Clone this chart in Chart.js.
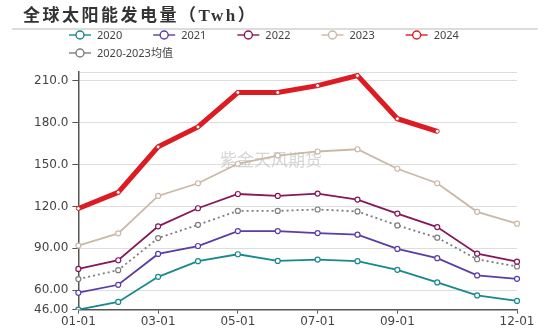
<!DOCTYPE html>
<html>
<head>
<meta charset="utf-8">
<title>全球太阳能发电量</title>
<script src="https://cdn.jsdelivr.net/npm/chart.js@4.4.1/dist/chart.umd.min.js"></script>
<style>
html,body{margin:0;padding:0;background:#fff;}
#box{position:relative;width:550px;height:330px;}
</style>
</head>
<body>
<div id="box"><canvas id="solarChart"></canvas></div>
<script>

const chartTitle =
"全球太阳能发电量（Twh）";

const watermark =
"紫金天风期货";

const months = [
    "01-01","02-01","03-01","04-01","05-01","06-01",
    "07-01","08-01","09-01","10-01","11-01","12-01"
];

// month labels that get a tick on the x axis
const shownMonths = [
    "01-01","03-01","05-01","07-01","09-01","12-01"
];

const yTicks = [46, 60, 90, 120, 150, 180, 210];
const yMin = 46;
const yMax = 216.4;

const seriesNames = [
    "2020","2021","2022","2023","2024","2020-2023均值"
];

const gen2020 = [46.0, 51.5, 69.5, 80.7, 85.7, 80.9, 81.9, 80.7, 74.5, 65.5, 56.2, 52.2];
const gen2021 = [58.1, 63.8, 85.9, 91.6, 102.3, 102.3, 100.9, 99.7, 89.5, 82.9, 70.5, 68.1];
const gen2022 = [75.2, 81.4, 105.7, 118.7, 128.9, 127.5, 129.2, 124.9, 114.9, 105.2, 86.1, 80.4];
const gen2023 = [91.9, 100.7, 127.5, 136.6, 150.6, 156.5, 159.4, 161.0, 147.0, 136.6, 116.1, 107.6];
const gen2024 = [118.5, 130.1, 162.7, 177.0, 201.7, 201.7, 206.6, 213.8, 182.9, 173.9];
const genAvg  = [67.9, 74.3, 97.3, 106.8, 116.8, 116.8, 117.8, 116.4, 106.4, 97.6, 82.1, 76.9];

function lineSet(label, data, color, width){

    return {
        label: label,
        data: data,
        borderColor: color,
        backgroundColor: color,
        borderWidth: width,
        pointRadius: 2.5,
        pointBorderWidth: 1.2,
        pointBorderColor: color,
        pointBackgroundColor: "#fff",
        tension: 0,
        fill: false
    };
}

const datasets = [
    lineSet(seriesNames[0], gen2020, "#17898c", 1.8),
    lineSet(seriesNames[1], gen2021, "#5a3ea6", 1.8),
    lineSet(seriesNames[2], gen2022, "#86175a", 1.8),
    lineSet(seriesNames[3], gen2023, "#c9b9a6", 1.8),
    lineSet(seriesNames[4], gen2024, "#dc1c22", 5),
    lineSet(seriesNames[5], genAvg, "#7d7d7d", 1.8)
];

datasets[4].pointRadius = 2;
datasets[4].pointBorderWidth = 1;
datasets[4].order = -1;
datasets[5].borderDash = [2, 3];

// title, rule under it and the line+circle legend
const headerPlugin = {

    id: "header",

    afterDraw(chart){

        const ctx = chart.ctx;
        ctx.save();

        ctx.fillStyle = "#333";
        ctx.textBaseline = "middle";
        ctx.font = "bold 17px 'Liberation Serif', 'Noto Sans CJK SC'";
        ctx.letterSpacing = "2.5px";
        ctx.fillText(chartTitle, 23, 17);
        ctx.letterSpacing = "0px";

        ctx.fillStyle = "#dcdcdc";
        ctx.fillRect(12, 28, 526, 2);

        ctx.font = "11px 'Noto Sans', 'Noto Sans CJK SC'";

        let x = 69;
        let y = 35;
        const left = 69;
        const right = 512;

        chart.data.datasets.forEach(ds => {

            const w = 28 + ctx.measureText(ds.label).width + 31;

            if (x + w > right + 31 && x > left){
                x = left;
                y += 18;
            }

            ctx.strokeStyle = ds.borderColor;
            ctx.lineWidth = 1.4;
            ctx.setLineDash([]);
            ctx.beginPath();
            ctx.moveTo(x, y);
            ctx.lineTo(x + 22, y);
            ctx.stroke();

            ctx.beginPath();
            ctx.arc(x + 11, y, 4, 0, Math.PI * 2);
            ctx.fillStyle = "#fff";
            ctx.fill();
            ctx.stroke();

            ctx.fillStyle = "#444";
            ctx.fillText(ds.label, x + 28, y + 0.5);

            x += w;
        });

        ctx.restore();
    },

    beforeDatasetsDraw(chart){

        const ctx = chart.ctx;
        ctx.save();
        ctx.fillStyle = "rgba(165,165,165,0.45)";
        ctx.textBaseline = "middle";
        ctx.font = "17px 'Noto Sans CJK SC'";
        ctx.fillText(watermark, 220, 160);
        ctx.restore();
    }
};

new Chart(

    document.getElementById("solarChart"),

    {
        type: "line",

        data: {
            labels: months,
            datasets: datasets
        },

        options: {

            responsive: true,
            maintainAspectRatio: false,
            animation: false,

            layout: {
                padding: {top: 72, left: 30, right: 33, bottom: 0}
            },

            plugins: {
                legend: {display: false},
                tooltip: {enabled: false}
            },

            scales: {

                x: {
                    afterBuildTicks: s => {
                        s.ticks = s.ticks.filter(t => shownMonths.includes(months[t.value]));
                    },
                    border: {color: "#555", width: 1.5},
                    grid: {
                        drawOnChartArea: false,
                        tickLength: 4,
                        tickColor: "#555"
                    },
                    ticks: {
                        autoSkip: false,
                        maxRotation: 0,
                        padding: 1,
                        color: "#444",
                        font: {family: "DejaVu Sans", size: 12}
                    }
                },

                y: {
                    min: yMin,
                    max: yMax,
                    afterBuildTicks: s => {
                        s.ticks = yTicks.concat([yMax]).map(v => ({value: v}));
                    },
                    border: {color: "#555", width: 1.5},
                    grid: {
                        color: "#dedede",
                        lineWidth: 1,
                        tickLength: 6,
                        tickColor: c => (c.tick && c.tick.value === yMax) ? "rgba(0,0,0,0)" : "#555"
                    },
                    ticks: {
                        padding: 4,
                        color: "#444",
                        font: {family: "DejaVu Sans", size: 12},
                        callback: v => v === yMax ? "" : v.toPrecision(4)
                    }
                }
            }
        },

        plugins: [headerPlugin]
    }
);

</script>
</body>
</html>
